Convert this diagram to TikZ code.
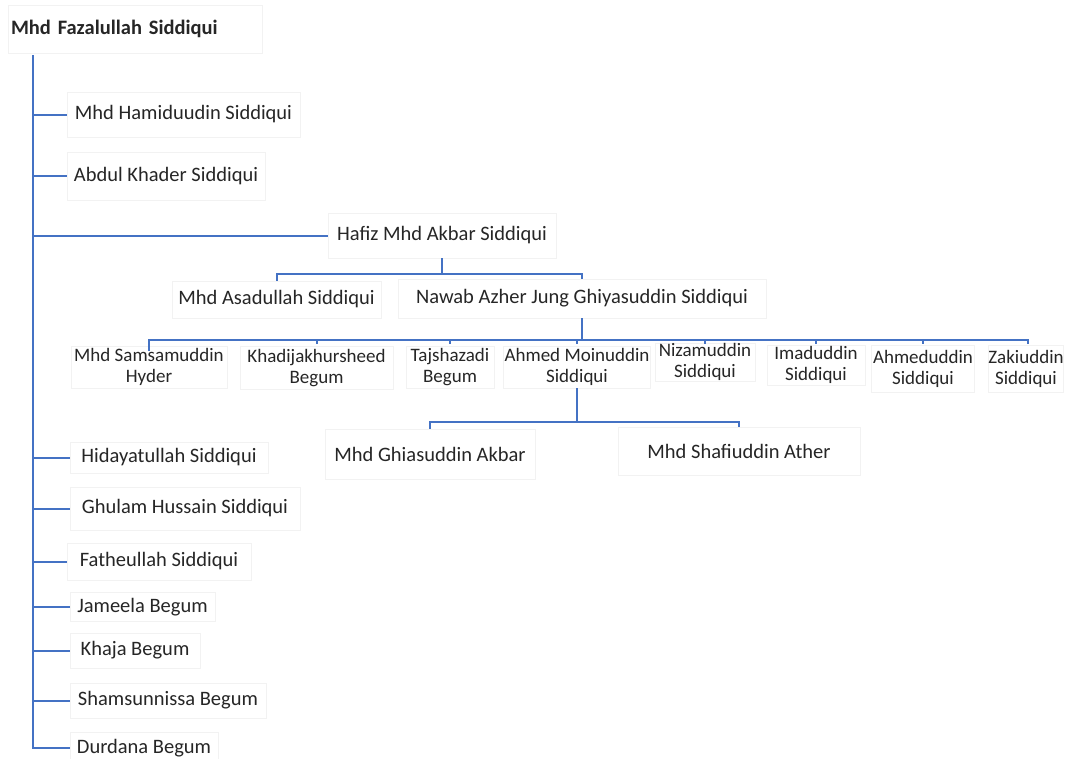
\documentclass[tikz,border=0pt]{standalone}
\usepackage{fontspec}
\setmainfont{Carlito}
\definecolor{linkblue}{HTML}{4472C4}
\definecolor{boxline}{HTML}{F2F2F2}
\definecolor{txt}{HTML}{262626}
\begin{document}
\begin{tikzpicture}[x=1pt,y=-1pt,
  person/.style={draw=boxline, line width=0.7pt, text=txt, inner sep=0pt,
    font=\fontsize{20.5}{23}\selectfont},
  twoline/.style={person, align=center, font=\fontsize{19}{21}\selectfont},
  conn/.style={draw=linkblue, line width=2pt}]
\useasboundingbox[fill=white] (0,0) rectangle (1067,758);
% root
\node[person, minimum width=254, minimum height=48, text width=248, align=left,
  font=\bfseries\fontsize{20.5}{23}\selectfont] (root) at (135,29) {Mhd Fazalullah Siddiqui};
% first-level children
\node[person, minimum width=233, minimum height=45] (ham) at (183.5,114.5) {Mhd Hamiduudin Siddiqui};
\node[person, minimum width=198, minimum height=48] (abd) at (166,176) {Abdul Khader Siddiqui};
\node[person, minimum width=228, minimum height=45] (haf) at (442,235.5) {Hafiz Mhd Akbar Siddiqui};
\node[person, minimum width=198, minimum height=31] (hid) at (169,457.5) {Hidayatullah Siddiqui};
\node[person, minimum width=230, minimum height=43] (ghu) at (185,508.5) {Ghulam Hussain Siddiqui};
\node[person, minimum width=184, minimum height=37] (fat) at (159,561.5) {Fatheullah Siddiqui};
\node[person, minimum width=145, minimum height=29] (jam) at (142.5,607) {Jameela Begum};
\node[person, minimum width=130, minimum height=35] (kha) at (135,650.5) {Khaja Begum};
\node[person, minimum width=196, minimum height=35] (sha) at (168,700.5) {Shamsunnissa Begum};
\node[person, minimum width=148, minimum height=32] (dur) at (144,748) {Durdana Begum};
% Hafiz's children
\node[person, minimum width=209, minimum height=37] (asa) at (276.5,299.5) {Mhd Asadullah Siddiqui};
\node[person, minimum width=368, minimum height=39] (naw) at (582,298.5) {Nawab Azher Jung Ghiyasuddin Siddiqui};
% Nawab's children
\node[twoline, minimum width=156, minimum height=42] (sam) at (149,367) {Mhd Samsamuddin\\Hyder};
\node[twoline, minimum width=153, minimum height=43] (khb) at (316.5,368) {Khadijakhursheed\\Begum};
\node[twoline, minimum width=88, minimum height=42] (taj) at (450,367) {Tajshazadi\\Begum};
\node[twoline, minimum width=147, minimum height=42] (ahm) at (577,367) {Ahmed Moinuddin\\Siddiqui};
\node[twoline, minimum width=100, minimum height=38] (niz) at (705,362) {Nizamuddin\\Siddiqui};
\node[twoline, minimum width=98, minimum height=40] (ima) at (816,365) {Imaduddin\\Siddiqui};
\node[twoline, minimum width=103, minimum height=47] (ahd) at (923,369) {Ahmeduddin\\Siddiqui};
\node[twoline, minimum width=74, minimum height=47] (zak) at (1026,369) {Zakiuddin\\Siddiqui};
% Ahmed Moinuddin's children
\node[person, minimum width=210, minimum height=50] (ghi) at (430,454) {Mhd Ghiasuddin Akbar};
\node[person, minimum width=242, minimum height=48] (shf) at (739,451) {Mhd Shafiuddin Ather};
% trunk
\coordinate (ttop) at (33,55);
\draw[conn] (ttop) |- (dur.west);
\foreach \c in {ham,abd,haf,hid,ghu,fat,jam,kha,sha}
  \draw[conn] (\c.west -| ttop) -- (\c.west);
% Hafiz bracket
\coordinate (b1) at (442,274);
\draw[conn] (haf.south) -- (b1);
\draw[conn] (asa.north) -- (asa.north |- b1) -- (naw.north |- b1) -- (naw.north);
% Nawab bracket
\coordinate (b2) at (582,340);
\draw[conn] (naw.south) -- (b2);
\draw[conn] ([yshift=-5pt]sam.north) -- (sam.north |- b2) -- ([xshift=2pt]zak.north |- b2) -- ([xshift=2pt,yshift=-4pt]zak.north |- b2);
\foreach \c in {khb,taj,ahm,niz,ima,ahd}
  \draw[conn] (\c.north |- b2) -- ++(0,4);
% Ahmed Moinuddin bracket
\coordinate (b3) at (577,422);
\draw[conn] (ahm.south) -- (b3);
\draw[conn] (ghi.north) -- (ghi.north |- b3) -- (shf.north |- b3) -- (shf.north);
\end{tikzpicture}
\end{document}
